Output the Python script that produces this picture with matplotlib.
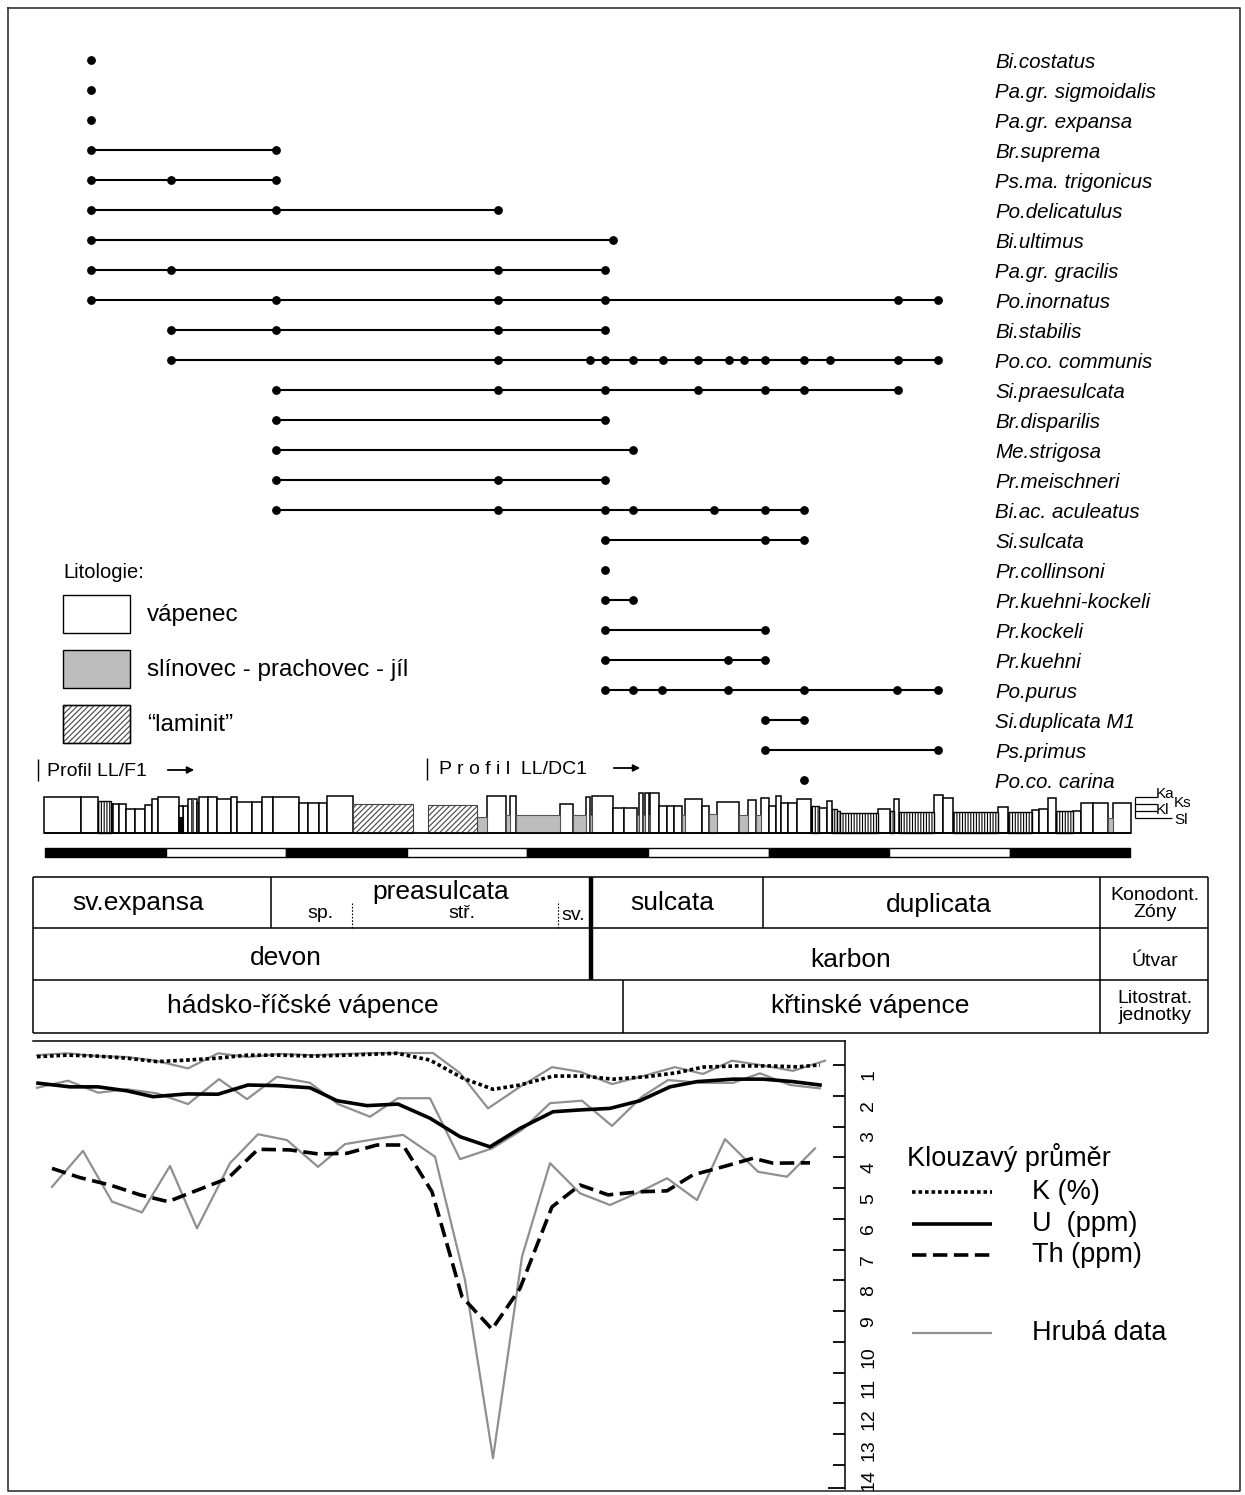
import matplotlib

matplotlib.use("Agg")
import matplotlib.pyplot as plt
from matplotlib.transforms import ScaledTranslation

W, H = 1245, 1495
DPI = 100

plt.rcParams["font.family"] = ["Liberation Sans", "DejaVu Sans"]
plt.rcParams["hatch.linewidth"] = 0.8

# conodont range chart: species and the sample positions where they were found
species = [
    "Bi.costatus", "Pa.gr. sigmoidalis", "Pa.gr. expansa", "Br.suprema",
    "Ps.ma. trigonicus", "Po.delicatulus", "Bi.ultimus", "Pa.gr. gracilis",
    "Po.inornatus", "Bi.stabilis", "Po.co. communis", "Si.praesulcata",
    "Br.disparilis", "Me.strigosa", "Pr.meischneri", "Bi.ac. aculeatus",
    "Si.sulcata", "Pr.collinsoni", "Pr.kuehni-kockeli", "Pr.kockeli",
    "Pr.kuehni", "Po.purus", "Si.duplicata M1", "Ps.primus", "Po.co. carina",
]
finds = [
    [91], [91], [91], [91, 276], [91, 171, 276], [91, 276, 498], [91, 613],
    [91, 171, 498, 605], [91, 276, 498, 605, 898, 938], [171, 276, 498, 605],
    [171, 498, 590, 605, 633, 663, 698, 729, 744, 765, 804, 830, 898, 938],
    [276, 498, 605, 698, 765, 804, 898], [276, 605], [276, 633],
    [276, 498, 605], [276, 498, 605, 633, 714, 765, 804], [605, 765, 804],
    [605], [605, 633], [605, 765], [605, 728, 765],
    [605, 633, 662, 728, 804, 897, 938], [765, 804], [765, 938], [804],
]

# lithological column (section position, bed height above base, lithology)
bed_edges = [44, 80.7, 98.3, 110.7, 113.3, 119.3, 125.7, 135, 145.3, 151.7, 158.3,
             179, 183.3, 188.3, 191.7, 193.3, 196.7, 199.3, 208.3, 216.7, 230.7,
             237.3, 252.3, 262.3, 273.3, 299.3, 308.3, 319.3, 327.3, 352.7, 413.3,
             428.3, 476.7, 486.7, 505.7, 510, 515.7, 560, 573.3, 585.7, 590, 592.3,
             612.7, 624, 637.3, 639, 642.7, 645, 649, 650, 659, 667.3, 674, 681.7,
             685, 701.7, 709.3, 716.7, 739.3, 748.3, 756, 760.7, 769, 776, 781,
             787.7, 797.3, 810.7, 819.3, 826.7, 832.3, 836.7, 840, 878.3, 890,
             894.3, 899.3, 934, 943.3, 952.7, 998.3, 1008.3, 1031.7, 1039.3,
             1048.3, 1055.7, 1073.3, 1081, 1092.7, 1108.3, 1113.3, 1130.7]
bed_height = [36, 36, 32, 29, 29, 29, 24, 24, 28, 34,
              36, 27, 27, 34, 34, 34, 30, 36, 36, 34,
              36, 31, 31, 36, 36, 30, 30, 30, 37, 29,
              0, 28, 16, 37, 18, 37, 18, 29, 18, 36,
              18, 37, 25, 25, 18, 40, 18, 40, 18, 40,
              27, 27, 27, 18, 34, 27, 19, 31, 18, 33,
              18, 35, 27, 37, 30, 30, 34, 27, 25, 32,
              24, 22, 20, 24, 22, 34, 21, 38, 35, 21,
              26, 21, 23, 24, 35, 22, 22, 30, 30, 15,
              30]
bed_kind = list("WWTWWWWWWW" "WMWWGWWWWW" "WWWWWWWWWL" "NLGWGWGWGW"
                "GWWWGWGWGW" "WWWGWWGWGW" "GWWWWWWTWW" "TTTWTWTWWT"
                "WTWWWTWWWG" "W")

# gamma-ray spectrometry: moving averages and raw data
k_smooth_x = [37, 67, 97, 127, 157, 187, 217, 247, 280, 313, 347, 380, 397, 430,
              463, 493, 520, 553, 583, 613, 647, 677, 703, 737, 770, 797, 820]
k_smooth = [0.73, 0.68, 0.71, 0.78, 0.89, 0.84, 0.78, 0.68, 0.68, 0.71, 0.68, 0.64,
            0.62, 0.84, 1.43, 1.79, 1.65, 1.36, 1.36, 1.46, 1.38, 1.25, 1.07, 1.03,
            1.03, 1.06, 1.00]
k_raw_x = [37, 67, 97, 127, 157, 188, 218, 248, 280, 313, 345, 375, 405, 433,
           460, 488, 520, 552, 580, 612, 643, 675, 703, 732, 760, 793, 825]
k_raw = [0.68, 0.62, 0.71, 0.74, 0.87, 1.11, 0.62, 0.74, 0.64, 0.68, 0.64, 0.61,
         0.61, 0.61, 1.26, 2.41, 1.71, 1.07, 1.22, 1.62, 1.36, 1.07, 1.29, 0.86,
         1.00, 1.19, 0.86]
u_smooth_x = [38, 70, 98, 127, 153, 187, 218, 248, 277, 310, 337, 367, 398, 430,
              460, 490, 520, 553, 580, 610, 640, 670, 697, 733, 763, 793, 820]
u_smooth = [1.59, 1.71, 1.71, 1.84, 2.03, 1.94, 1.95, 1.65, 1.67, 1.74, 2.16, 2.32,
            2.27, 2.73, 3.33, 3.66, 3.06, 2.52, 2.46, 2.41, 2.16, 1.71, 1.54, 1.46,
            1.46, 1.54, 1.65]
u_raw_x = [37, 68, 98, 127, 157, 188, 219, 247, 277, 310, 338, 370, 398, 430,
           460, 492, 522, 550, 582, 612, 642, 668, 702, 733, 760, 790, 820]
u_raw = [1.74, 1.51, 1.90, 1.79, 1.92, 2.27, 1.46, 2.11, 1.38, 1.58, 2.27, 2.68,
         2.08, 2.08, 4.06, 3.71, 3.11, 2.24, 2.16, 2.98, 2.03, 1.49, 1.58, 1.58,
         1.27, 1.65, 1.76]
th_smooth_x = [52, 80, 110, 140, 168, 198, 228, 258, 290, 318, 347, 377, 403, 432,
               462, 492, 520, 552, 580, 608, 640, 667, 693, 725, 753, 773, 810]
th_smooth = [4.36, 4.66, 4.90, 5.22, 5.44, 5.06, 4.68, 3.74, 3.76, 3.89, 3.87, 3.60,
             3.60, 5.12, 8.53, 9.59, 8.26, 5.61, 4.90, 5.22, 5.12, 5.09, 4.57, 4.29,
             4.03, 4.19, 4.18]
th_raw_x = [52, 83, 112, 142, 170, 197, 230, 258, 287, 318, 345, 375, 403, 435,
            465, 493, 522, 550, 580, 610, 640, 667, 697, 725, 758, 787, 815]
th_raw = [4.96, 3.79, 5.44, 5.79, 4.28, 6.31, 4.19, 3.25, 3.44, 4.31, 3.57, 3.41,
          3.27, 3.98, 7.99, 13.78, 7.23, 4.19, 5.17, 5.55, 5.12, 4.68, 5.39, 3.41,
          4.47, 4.63, 3.71]
value_ticks = list(range(1, 15))

GRAY_FILL = "#bdbdbd"
RAW_GRAY = "#8f8f8f"


def px_rect(x0, y0, x1, y1):
    return [x0 / W, 1 - y1 / H, (x1 - x0) / W, (y1 - y0) / H]


fig = plt.figure(figsize=(W / DPI, H / DPI), dpi=DPI)
ax = fig.add_axes([0, 0, 1, 1])


def hline(x0, x1, y, lw=1.1, **kw):
    ax.plot([x0, x1], [y, y], color="black", lw=lw, solid_capstyle="butt", **kw)


def vline(x, y0, y1, lw=1.1, **kw):
    ax.plot([x, x], [y0, y1], color="black", lw=lw, solid_capstyle="butt", **kw)


# outer frame
ax.plot([8, 1240, 1240, 8, 8], [8, 8, 1491, 1491, 8], color="#333333", lw=1.2)

# --- range chart ---
row_y0, row_step = 60, 30
for i, (name, xs) in enumerate(zip(species, finds)):
    y = row_y0 + row_step * i
    if len(xs) > 1:
        ax.plot([min(xs), max(xs)], [y, y], color="black", lw=1.5)
    ax.plot(xs, [y] * len(xs), "o", color="black", ms=5.3)
    ax.text(995, y + 2, name, style="italic", fontsize=14.8, va="center", ha="left")

# --- lithology legend ---
ax.text(63, 572, "Litologie:", fontsize=14.5, va="center")
legend_boxes = [("vápenec", "white", None, 614), ("slínovec - prachovec - jíl", GRAY_FILL, None, 669),
                ("\u201claminit\u201d", "white", "//////", 724)]
for label, fc, hatch, yc in legend_boxes:
    ax.bar(63, 38, width=67, bottom=yc - 19, align="edge", facecolor=fc,
           edgecolor="black" if hatch is None else "#444444", hatch=hatch, lw=1.0)
    if hatch:
        ax.bar(63, 38, width=67, bottom=yc - 19, align="edge", facecolor="none",
               edgecolor="black", lw=1.0)
    ax.text(147, yc + 1, label, fontsize=17.5, va="center")

# --- profile labels ---
vline(38, 759, 781, lw=1.0)
ax.text(47, 771, "Profil LL/F1", fontsize=14, va="center")
ax.annotate("", xy=(197, 770), xytext=(165, 770),
            arrowprops=dict(arrowstyle="-|>", color="black", lw=1.3, mutation_scale=10))
vline(427, 758, 780, lw=1.0)
ax.text(439, 769, "P r o f i l  LL/DC1", fontsize=14, va="center")
ax.annotate("", xy=(643, 768), xytext=(611, 768),
            arrowprops=dict(arrowstyle="-|>", color="black", lw=1.3, mutation_scale=10))

# --- lithological column ---
base_y = 833
styles = {
    "W": dict(facecolor="white", edgecolor="black", lw=1.1),
    "G": dict(facecolor=GRAY_FILL, edgecolor="#555555", lw=0.8),
    "T": dict(facecolor="white", edgecolor="black", hatch="||||||", lw=1.0),
    "L": dict(facecolor="white", edgecolor="#444444", hatch="//////", lw=0.8),
    "M": dict(facecolor="white", edgecolor="black", lw=1.1),
}
for kind, style in styles.items():
    lefts = [bed_edges[j] for j, k in enumerate(bed_kind) if k == kind]
    widths = [bed_edges[j + 1] - bed_edges[j] for j, k in enumerate(bed_kind) if k == kind]
    heights = [-bed_height[j] for j, k in enumerate(bed_kind) if k == kind]
    ax.bar(lefts, heights, width=widths, bottom=base_y, align="edge", zorder=2, **style)
    if kind == "M":
        ax.bar(lefts, [-16] * len(lefts), width=widths, bottom=base_y, align="edge",
               facecolor="black", edgecolor="black", lw=0.8, zorder=3)
hline(44, 1131, base_y, lw=1.3, zorder=4)

# grain-size key
vline(1135, 797, 818, lw=0.9)
for yk, xe in [(797, 1157), (804, 1157), (811, 1157), (818, 1172)]:
    hline(1135, xe, yk, lw=0.9)
ax.text(1156, 794, "Ka", fontsize=11, va="center")
ax.text(1174, 803, "Ks", fontsize=11, va="center")
ax.text(1156, 810, "Kl", fontsize=11, va="center")
ax.text(1174, 820, "Sl", fontsize=11, va="center")

# scale bar
seg_left = [45 + 120.6 * k for k in range(9)]
seg_color = ["black" if k % 2 == 0 else "white" for k in range(9)]
ax.bar(seg_left, [-9] * 9, width=120.6, bottom=857, align="edge", color=seg_color,
       edgecolor="black", lw=1.0)

# --- stratigraphic table ---
t_left, t_right = 33, 1208
r0, r1, r2, r3 = 877, 928, 980, 1033
for yy in (r0, r1, r2, r3):
    hline(t_left, t_right, yy)
vline(t_left, r0, r3)
vline(t_right, r0, r3)
for xx in (271, 763):
    vline(xx, r0, r1)
vline(591, r0, r2, lw=3.2)
vline(1100, r0, r3)
vline(623, r2, r3)
for xx in (352, 558):
    vline(xx, 903, r1, lw=0.8, linestyle=(0, (1.5, 1.5)))

big = 19
small = 14
ax.text(138, 903, "sv.expansa", fontsize=big, ha="center", va="center")
ax.text(441, 892, "preasulcata", fontsize=big, ha="center", va="center")
ax.text(320, 913, "sp.", fontsize=small, ha="center", va="center")
ax.text(462, 914, "stř.", fontsize=small, ha="center", va="center")
ax.text(573, 915, "sv.", fontsize=small, ha="center", va="center")
ax.text(672, 903, "sulcata", fontsize=big, ha="center", va="center")
ax.text(939, 905, "duplicata", fontsize=big, ha="center", va="center")
ax.text(1155, 904, "Konodont.\nZóny", fontsize=small, ha="center", va="center",
        linespacing=0.95)
ax.text(286, 958, "devon", fontsize=big, ha="center", va="center")
ax.text(851, 960, "karbon", fontsize=big, ha="center", va="center")
ax.text(1155, 961, "Útvar", fontsize=small, ha="center", va="center")
ax.text(303, 1006, "hádsko-říčské vápence", fontsize=big, ha="center", va="center")
ax.text(870, 1006, "křtinské vápence", fontsize=big, ha="center", va="center")
ax.text(1155, 1007, "Litostrat.\njednotky", fontsize=small, ha="center", va="center",
        linespacing=0.95)

# --- gamma-ray legend ---
ax.text(907, 1157, "Klouzavý průměr", fontsize=19.5, va="center")
legend_rows = [
    ("K (%)", 1192, dict(color="black", lw=2.6, linestyle=(0, (1, 0.8)))),
    ("U  (ppm)", 1224, dict(color="black", lw=2.6)),
    ("Th (ppm)", 1255, dict(color="black", lw=2.6, linestyle=(0, (4, 1.8)))),
    ("Hrubá data", 1333, dict(color=RAW_GRAY, lw=1.6)),
]
for label, yl, style in legend_rows:
    ax.plot([912, 992], [yl, yl], solid_capstyle="butt", **style)
    ax.text(1032, yl, label, fontsize=19.5, va="center")

ax.set_xlim(0, W)
ax.set_ylim(H, 0)
ax.axis("off")

# --- gamma-ray plot ---
gax = fig.add_axes(px_rect(33, 1041, 845, 1489))
gax.plot(k_raw_x, k_raw, color=RAW_GRAY, lw=1.6, zorder=1)
gax.plot(u_raw_x, u_raw, color=RAW_GRAY, lw=1.6, zorder=1)
gax.plot(th_raw_x, th_raw, color=RAW_GRAY, lw=1.6, zorder=1)
gax.plot(k_smooth_x, k_smooth, color="black", lw=2.6, linestyle=(0, (1, 0.8)), zorder=2)
gax.plot(u_smooth_x, u_smooth, color="black", lw=2.6, zorder=2)
gax.plot(th_smooth_x, th_smooth, color="black", lw=2.6, linestyle=(0, (4, 1.8)), zorder=2)
gax.set_xlim(33, 845)
gax.set_ylim(14.78, 0.22)
gax.set_xticks([])
for side in ("left", "bottom"):
    gax.spines[side].set_visible(False)
for side in ("top", "right"):
    gax.spines[side].set_linewidth(1.1)
gax.yaxis.tick_right()
gax.set_yticks(value_ticks)
gax.set_yticklabels([str(v) for v in value_ticks])
gax.set_yticks([14.76], minor=True)
gax.tick_params(axis="y", which="both", direction="in", length=9, width=1.3,
                pad=11, labelsize=14, labelrotation=90)
gax.tick_params(axis="y", which="minor", length=12)
shift = ScaledTranslation(0, -8 / 72, fig.dpi_scale_trans)
for tick in gax.yaxis.get_major_ticks():
    tick.label2.set_transform(tick.label2.get_transform() + shift)
gax.patch.set_visible(False)

fig.savefig("out.png", dpi=DPI)
